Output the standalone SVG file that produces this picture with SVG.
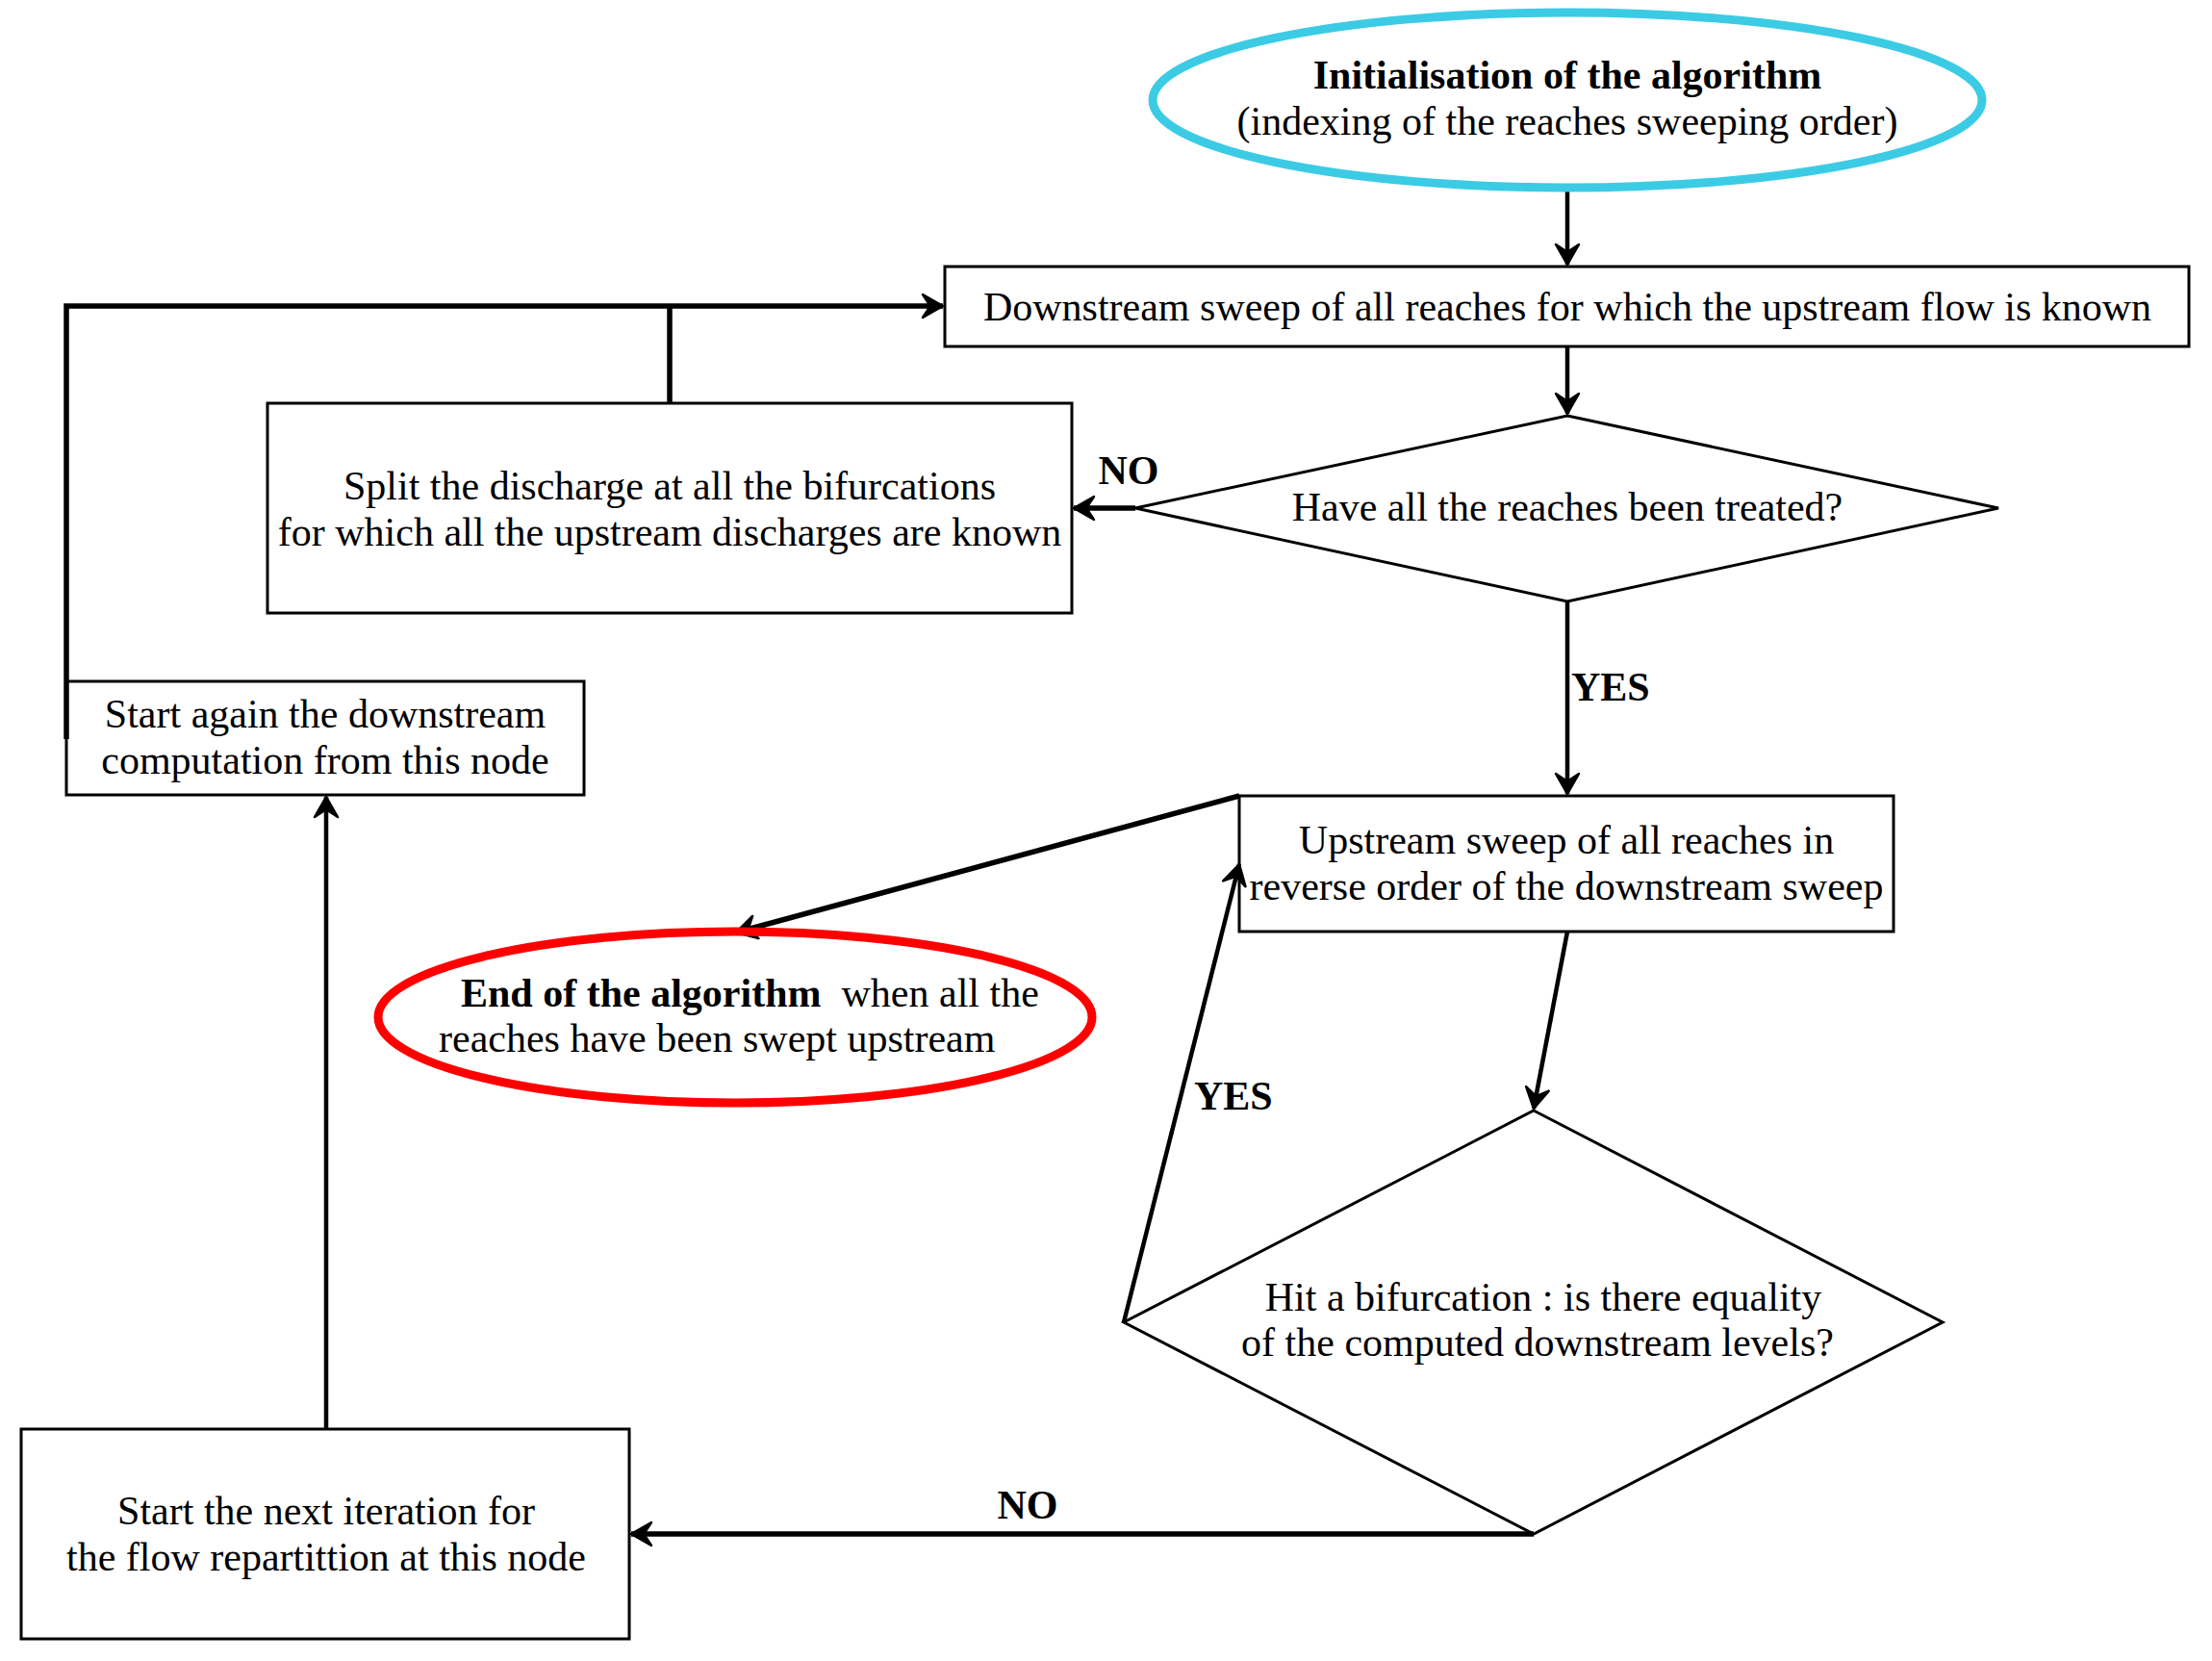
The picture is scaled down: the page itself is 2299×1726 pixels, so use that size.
<svg xmlns="http://www.w3.org/2000/svg" width="2299" height="1726" viewBox="0 0 2299 1726">
<style>
.bg{fill:#ffffff}
.box{fill:none;stroke:#000;stroke-width:3}
.t{font-family:"Liberation Serif","Times New Roman",serif;font-size:42px;fill:#000}
.c{text-anchor:middle}
.b{font-weight:bold}
.lbl{font-family:"Liberation Serif","Times New Roman",serif;font-size:42px;font-weight:bold;fill:#000}
.con{fill:none;stroke:#000;stroke-width:4.5;stroke-linecap:butt}
.thick{stroke-width:5.5}
</style>
<defs>
<marker id="ah" viewBox="-25 -15 30 30" markerWidth="30" markerHeight="30" refX="0" refY="0" orient="auto" markerUnits="userSpaceOnUse">
<path d="M0,0 L-21,-12 L-13,0 L-21,12 Z" fill="#000" stroke="#000" stroke-width="2.5" stroke-linejoin="round"/>
</marker>
</defs>
<rect class="bg" x="0" y="0" width="2299" height="1726"/>

<g id="connectors">
<path class="con" d="M1629,196 L1629,275" marker-end="url(#ah)"/>
<path class="con" d="M1629,360 L1629,430" marker-end="url(#ah)"/>
<path class="con thick" d="M1180,528 L1116,528" marker-end="url(#ah)"/>
<path class="con thick" d="M696,419 L696,318"/>
<path class="con thick" d="M69,768 L69,318 L980,318" marker-end="url(#ah)"/>
<path class="con" d="M1629,625 L1629,825" marker-end="url(#ah)"/>
<path class="con thick" d="M1288,827 L765,969" marker-end="url(#ah)"/>
<path class="con" d="M1629,968 L1594,1152" marker-end="url(#ah)"/>
<path class="con" d="M1168,1374 L1288,898" marker-end="url(#ah)"/>
<path class="con thick" d="M1594,1594 L656,1594" marker-end="url(#ah)"/>
<path class="con" d="M339,1485 L339,828" marker-end="url(#ah)"/>
<text class="lbl c" x="1173" y="503">NO</text>
<text class="lbl" x="1633" y="728">YES</text>
<text class="lbl" x="1241" y="1153">YES</text>
<text class="lbl c" x="1068" y="1578">NO</text>
</g>

<g id="init">
<ellipse cx="1629" cy="104" rx="431" ry="91" fill="none" stroke="#3ccbe5" stroke-width="9"/>
<text class="t c b" x="1629" y="92">Initialisation of the algorithm</text>
<text class="t c" x="1629" y="140">(indexing of the reaches sweeping order)</text>
</g>

<g id="downstream">
<rect class="box" x="982" y="277" width="1293" height="83"/>
<text class="t c" x="1629" y="333">Downstream sweep of all reaches for which the upstream flow is known</text>
</g>

<g id="treated">
<polygon class="box" points="1629,432 2077,528 1629,625 1180,528"/>
<text class="t c" x="1629" y="541">Have all the reaches been treated?</text>
</g>

<g id="split">
<rect class="box" x="278" y="419" width="836" height="218"/>
<text class="t c" x="696" y="519">Split the discharge at all the bifurcations</text>
<text class="t c" x="696" y="567">for which all the upstream discharges are known</text>
</g>

<g id="startagain">
<rect class="box" x="69" y="708" width="538" height="118"/>
<text class="t c" x="338" y="756">Start again the downstream</text>
<text class="t c" x="338" y="804">computation from this node</text>
</g>

<g id="upstream">
<rect class="box" x="1288" y="827" width="680" height="141"/>
<text class="t c" x="1628" y="887">Upstream sweep of all reaches in</text>
<text class="t c" x="1628" y="935">reverse order of the downstream sweep</text>
</g>

<g id="end">
<ellipse cx="764" cy="1057" rx="371" ry="89" fill="none" stroke="#ff0000" stroke-width="9"/>
<text class="t" x="479" y="1046" xml:space="preserve"><tspan class="b">End of the algorithm</tspan>  when all the</text>
<text class="t" x="456" y="1093">reaches have been swept upstream</text>
</g>

<g id="bifurcation">
<polygon class="box" points="1594,1154 2019,1374 1594,1594 1168,1374"/>
<text class="t c" x="1604" y="1362">Hit a bifurcation : is there equality</text>
<text class="t c" x="1598" y="1409">of the computed downstream levels?</text>
</g>

<g id="nextiter">
<rect class="box" x="22" y="1485" width="632" height="218"/>
<text class="t c" x="339" y="1584">Start the next iteration for</text>
<text class="t c" x="339" y="1632">the flow repartittion at this node</text>
</g>
</svg>
